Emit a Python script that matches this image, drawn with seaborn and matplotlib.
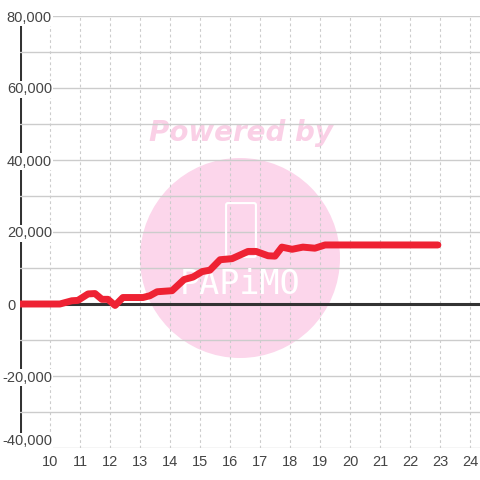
import matplotlib
matplotlib.use('Agg')
import matplotlib.pyplot as plt
from matplotlib.patches import Circle, FancyBboxPatch
from matplotlib.ticker import MultipleLocator, FuncFormatter
import seaborn as sns
import pandas as pd

# data
x_vals = [9.0, 10.33, 10.73, 10.93, 11.27, 11.5, 11.73, 11.93, 12.17, 12.43,
          13.1, 13.33, 13.57, 14.07, 14.47, 14.77, 15.07, 15.33, 15.67, 16.07,
          16.6, 16.87, 17.27, 17.5, 17.73, 18.07, 18.43, 18.83, 19.17, 22.93]
y_vals = [0, 0, 900, 1000, 2800, 2900, 1300, 1300, -400, 1800,
          1800, 2300, 3400, 3700, 6800, 7500, 9000, 9400, 12300, 12600,
          14600, 14600, 13400, 13300, 15800, 15200, 15800, 15500, 16400, 16400]
x_ticks = list(range(10, 25))
y_ticks = [-40000, -20000, 0, 20000, 40000, 60000, 80000]

df = pd.DataFrame({'x': x_vals, 'y': y_vals})

sns.set_style('white')
plt.rcParams['font.family'] = ['Liberation Sans', 'DejaVu Sans']

fig = plt.figure(figsize=(4.8, 4.8), dpi=100)
ax = fig.add_axes([20 / 480, 32 / 480, 460 / 480, 432 / 480])
ax.set_xlim(9, 9 + 460 / 30)
ax.set_ylim(-40000, 80000)

# watermark
ax.add_patch(Circle((0.5, 1 - 258 / 480), 100 / 480, transform=fig.transFigure,
                    facecolor='#FCD6EB', edgecolor='none', zorder=0.5, clip_on=False))
ax.text(0.503, 1 - 133 / 480, 'Powered by', transform=fig.transFigure, ha='center',
        va='center', fontsize=20, fontweight='bold', fontstyle='italic',
        family='DejaVu Sans', color='#FAD0E6', zorder=0.6)
ax.add_patch(FancyBboxPatch((228 / 480, 1 - 255 / 480), 26 / 480, 50 / 480,
                            boxstyle='round,pad=0.004', transform=fig.transFigure,
                            facecolor='none', edgecolor='white', lw=1.5, zorder=2.55))
ax.text(0.5, 1 - 285 / 480, 'PAPiMO', transform=fig.transFigure, ha='center',
        va='center', fontsize=24, family='DejaVu Sans Mono', color='white', zorder=2.55)

ax.set_axisbelow(False)
ax.set_xticks(x_ticks)
ax.set_yticks(y_ticks)
ax.yaxis.set_minor_locator(MultipleLocator(10000))
ax.yaxis.set_major_formatter(FuncFormatter(lambda v, p: f'{int(v):,}'))
ax.grid(axis='y', which='both', color='#cccccc', lw=1, ls='-')
ax.grid(axis='x', which='major', color='#cccccc', lw=0.8, ls=(0, (2.5, 2.5)))
ax.tick_params(axis='both', which='both', length=0, labelsize=10.5, labelcolor='#444444')
ax.tick_params(axis='y', pad=-23)
ax.tick_params(axis='x', pad=5)
for lab in ax.get_yticklabels():
    lab.set_bbox(dict(facecolor='white', edgecolor='none', pad=1))
for t, v in zip(ax.yaxis.get_major_ticks(), y_ticks):
    if v == 0:
        t.set_pad(2.9)
    if v == -40000:
        t.label1.set_verticalalignment('bottom')

for s in ax.spines.values():
    s.set_visible(False)
ax.axvline(9, color='#333333', lw=2.2, zorder=1)
ax.axhline(0, color='#333333', lw=2.2, zorder=2.6)

sns.lineplot(data=df, x='x', y='y', ax=ax, color='#EE2233', lw=5, zorder=3,
             sort=False, estimator=None)
ax.set_xlabel('')
ax.set_ylabel('')

fig.savefig('out.png', dpi=100)
